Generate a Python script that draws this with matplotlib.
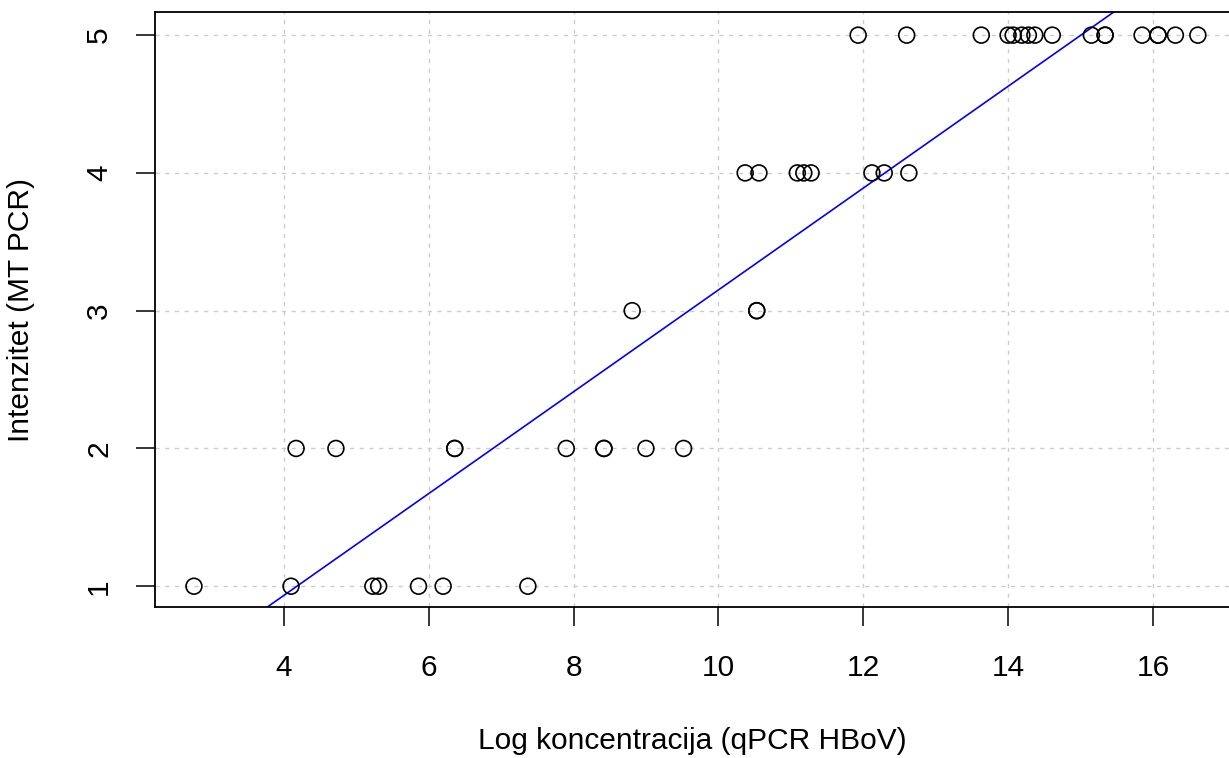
import numpy as np
import matplotlib.pyplot as plt

plt.rcParams['font.family'] = ['Liberation Sans', 'DejaVu Sans']

# log concentration (qPCR HBoV) and intensity (MT PCR)
log_conc_1 = [2.76, 4.10, 5.23, 5.31, 5.86, 6.20, 7.37]
log_conc_2 = [4.17, 4.72, 6.36, 6.36, 7.90, 8.42, 8.42, 9.00, 9.52]
log_conc_3 = [8.81, 10.53, 10.53]
log_conc_4 = [10.37, 10.56, 11.09, 11.18, 11.28, 12.12, 12.29, 12.63]
log_conc_5 = [11.93, 12.60, 13.63, 14.00, 14.07, 14.19, 14.28, 14.37, 14.61,
              15.15, 15.34, 15.34, 15.85, 16.07, 16.07, 16.31, 16.62]

x = np.array(log_conc_1 + log_conc_2 + log_conc_3 + log_conc_4 + log_conc_5)
y = np.array([1] * len(log_conc_1) + [2] * len(log_conc_2) + [3] * len(log_conc_3)
             + [4] * len(log_conc_4) + [5] * len(log_conc_5))

fig = plt.figure(figsize=(12.29, 7.58), dpi=100)
ax = fig.add_axes([0.126, 0.199, 0.874, 0.785])

ax.scatter(x, y, s=130, facecolors='none', edgecolors='black', linewidths=1.2, zorder=3)

# linear fit, drawn across the whole plot like abline
slope, intercept = np.polyfit(x, y, 1)
xl = np.array([0, 20])
ax.plot(xl, intercept + slope * xl, color='blue', linewidth=1.2, zorder=2)

ax.set_xlim(2.22, 17.05)
ax.set_ylim(0.848, 5.167)
ax.set_xticks([4, 6, 8, 10, 12, 14, 16])
ax.set_yticks([1, 2, 3, 4, 5])
ax.grid(True, color='#cccccc', linestyle=(0, (3, 4)), linewidth=1.0)
ax.set_axisbelow(True)

ax.spines['right'].set_visible(False)
for s in ['left', 'bottom', 'top']:
    ax.spines[s].set_linewidth(1.3)

ax.tick_params(axis='both', length=14, width=1.1, labelsize=21.5)
ax.tick_params(axis='x', pad=20)
ax.tick_params(axis='y', pad=16)
for lab in ax.get_yticklabels():
    lab.set_rotation(90)
    lab.set_va('center')

ax.set_xlabel('Log koncentracija (qPCR HBoV)', fontsize=21.5, labelpad=32)
ax.set_ylabel('Intenzitet (MT PCR)', fontsize=21.5, labelpad=36)

fig.savefig('out.png', dpi=100)
